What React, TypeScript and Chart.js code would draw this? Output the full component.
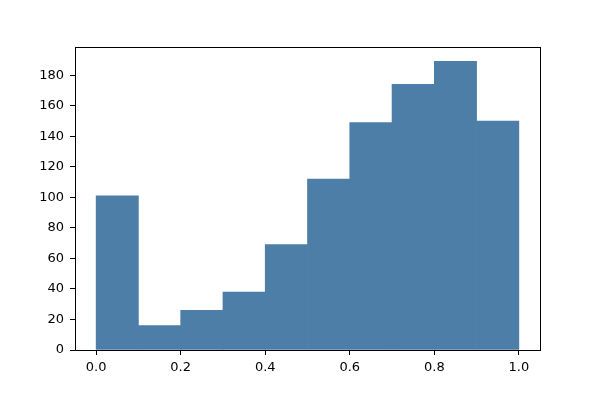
import React, { useEffect, useRef } from "react";
import { Chart, registerables } from "chart.js";

Chart.register(...registerables);

const binCenters = [0.05, 0.15, 0.25, 0.35, 0.45, 0.55, 0.65, 0.75, 0.85, 0.95];
const counts = [101, 16, 26, 38, 69, 112, 149, 174, 189, 150];
const xTicks = [0, 0.2, 0.4, 0.6, 0.8, 1.0];
const yTicks = [0, 20, 40, 60, 80, 100, 120, 140, 160, 180];

const frame = {
  id: "frame",
  afterDraw(chart: any) {
    const { ctx, chartArea } = chart;
    ctx.save();
    ctx.strokeStyle = "#000";
    ctx.lineWidth = 1;
    ctx.strokeRect(
      Math.round(chartArea.left) + 0.5,
      Math.round(chartArea.top) + 0.5,
      Math.round(chartArea.right - chartArea.left),
      Math.round(chartArea.bottom - chartArea.top)
    );
    ctx.restore();
  },
};

export default function App() {
  const ref = useRef<HTMLCanvasElement>(null);
  useEffect(() => {
    document.body.style.margin = "0";
    const chart = new Chart(ref.current!, {
      type: "bar",
      data: {
        datasets: [
          {
            data: binCenters.map((x, i) => ({ x, y: counts[i] })),
            backgroundColor: "#4d7ea8",
            borderWidth: 0,
            barPercentage: 1,
            categoryPercentage: 1,
          },
        ],
      },
      options: {
        responsive: false,
        animation: false,
        layout: { padding: { left: 0, top: 47, right: 60, bottom: 0 } },
        plugins: { legend: { display: false }, tooltip: { enabled: false } },
        scales: {
          x: {
            type: "linear",
            min: -0.05,
            max: 1.05,
            offset: false,
            afterBuildTicks: (s: any) => {
              s.ticks = xTicks.map((v) => ({ value: v }));
            },
            afterFit: (s: any) => {
              s.height = 50;
            },
            grid: { offset: false, drawOnChartArea: false, drawTicks: true, tickLength: 5, color: "#000" },
            border: { display: false },
            ticks: {
              color: "#000",
              padding: 5,
              font: { family: "DejaVu Sans", size: 13 },
              callback: (v: any) => Number(v).toFixed(1),
            },
          },
          y: {
            min: 0,
            max: 198.45,
            afterBuildTicks: (s: any) => {
              s.ticks = yTicks.map((v) => ({ value: v }));
            },
            afterFit: (s: any) => {
              s.width = 75;
            },
            grid: { drawOnChartArea: false, drawTicks: true, tickLength: 5, color: "#000" },
            border: { display: false },
            ticks: {
              color: "#000",
              padding: 6,
              font: { family: "DejaVu Sans", size: 13 },
            },
          },
        },
      },
      plugins: [frame],
    } as any);
    return () => chart.destroy();
  }, []);
  return <canvas ref={ref} width={600} height={400} style={{ display: "block" }} />;
}
